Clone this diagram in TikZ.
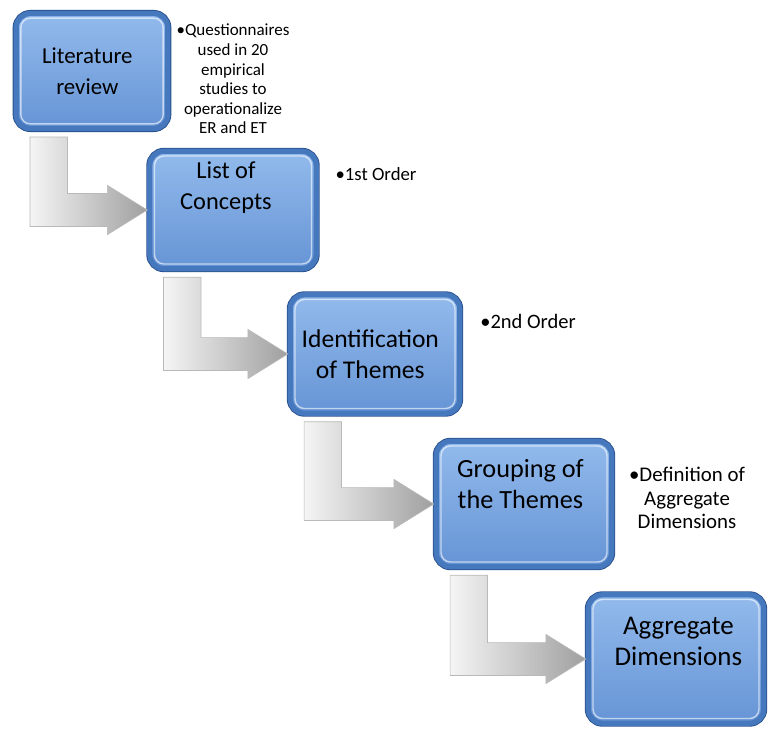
\documentclass[tikz,border=0pt]{standalone}
\usepackage{fontspec}
\setmainfont{Carlito}
\usetikzlibrary{calc,shadows}
\definecolor{boxtop}{RGB}{146,186,236}
\definecolor{boxbot}{RGB}{102,148,213}
\definecolor{boxedge}{RGB}{70,120,190}
\definecolor{boxdark}{RGB}{40,80,140}
\begin{document}
\begin{tikzpicture}[x=0.03cm,y=-0.03cm,
  box/.style={rectangle,rounded corners=12pt,draw=boxedge,line width=4.5pt,
    top color=boxtop,bottom color=boxbot,
    drop shadow={opacity=0.35,shadow xshift=2pt,shadow yshift=-2pt},
    preaction={draw=boxdark,line width=6pt},
    path picture={\draw[white,opacity=0.6,line width=1.2pt,rounded corners=8pt]
      ([shift={(4pt,4pt)}]path picture bounding box.south west) rectangle
      ([shift={(-4pt,-4pt)}]path picture bounding box.north east);}},
  boxtext/.style={align=center,font=\fontsize{#1}{26}\selectfont},
  note/.style 2 args={align=center,font=\fontsize{#1}{#2}\selectfont},
  bent/.style={left color=gray!8,right color=gray!75,draw=gray!55,line width=0.6pt}]
\useasboundingbox (0,0) rectangle (769,732);
\node[box,minimum width=4.55cm,minimum height=3.45cm] (b1) at (92,71) {};
\node[box,minimum width=4.99cm,minimum height=3.52cm] (b2) at (233,210) {};
\node[box,minimum width=5.08cm,minimum height=3.55cm] (b3) at (375,354) {};
\node[box,minimum width=5.26cm,minimum height=3.76cm] (b4) at (524,504) {};
\node[box,minimum width=5.26cm,minimum height=3.85cm] (b5) at (676,659) {};
\node[boxtext=19.5] (b1text) at ([xshift=-4pt]b1.center) {Literature\\review};
\node[boxtext=20.8] (b2text) at ([xshift=-6pt,yshift=19pt]b2.center) {List of\\Concepts};
\node[boxtext=21.8] (b3text) at ([xshift=-4pt]b3.center) {Identification\\of Themes};
\node[boxtext=22.4] (b4text) at ([xshift=-3pt,yshift=17pt]b4.center) {Grouping of\\the Themes};
\node[boxtext=23] (b5text) at ([xshift=2pt,yshift=15pt]b5.center) {Aggregate\\Dimensions};
\path[bent] let \p1=(b1.south west), \p2=(b2.west) in (\x1+14pt,\y1-5pt) -- (\x1+46pt,\y1-5pt) -- (\x1+46pt,\y2+14pt) -- (\x2-34pt,\y2+14pt) -- (\x2-34pt,\y2+21pt) -- (\p2) -- (\x2-34pt,\y2-21pt) -- (\x2-34pt,\y2-14pt) -- (\x1+14pt,\y2-14pt) -- cycle;
\path[bent] let \p1=(b2.south west), \p2=(b3.west) in (\x1+14pt,\y1-5pt) -- (\x1+46pt,\y1-5pt) -- (\x1+46pt,\y2+14pt) -- (\x2-34pt,\y2+14pt) -- (\x2-34pt,\y2+21pt) -- (\p2) -- (\x2-34pt,\y2-21pt) -- (\x2-34pt,\y2-14pt) -- (\x1+14pt,\y2-14pt) -- cycle;
\path[bent] let \p1=(b3.south west), \p2=(b4.west) in (\x1+14pt,\y1-5pt) -- (\x1+46pt,\y1-5pt) -- (\x1+46pt,\y2+14pt) -- (\x2-34pt,\y2+14pt) -- (\x2-34pt,\y2+21pt) -- (\p2) -- (\x2-34pt,\y2-21pt) -- (\x2-34pt,\y2-14pt) -- (\x1+14pt,\y2-14pt) -- cycle;
\path[bent] let \p1=(b4.south west), \p2=(b5.west) in (\x1+14pt,\y1-5pt) -- (\x1+46pt,\y1-5pt) -- (\x1+46pt,\y2+14pt) -- (\x2-34pt,\y2+14pt) -- (\x2-34pt,\y2+21pt) -- (\p2) -- (\x2-34pt,\y2-21pt) -- (\x2-34pt,\y2-14pt) -- (\x1+14pt,\y2-14pt) -- cycle;
\node[note={14.5}{16.7}] (n1) at (233,79) {\textbullet Questionnaires\\used in 20\\empirical\\studies to\\operationalize\\ER and ET};
\node[note={16}{19}] (n2) at (376,174) {\textbullet 1st Order};
\node[note={17.5}{20}] (n3) at (528,321) {\textbullet 2nd Order};
\node[note={17.8}{20}] (n4) at (687,498) {\textbullet Definition of\\Aggregate\\Dimensions};
\end{tikzpicture}
\end{document}
